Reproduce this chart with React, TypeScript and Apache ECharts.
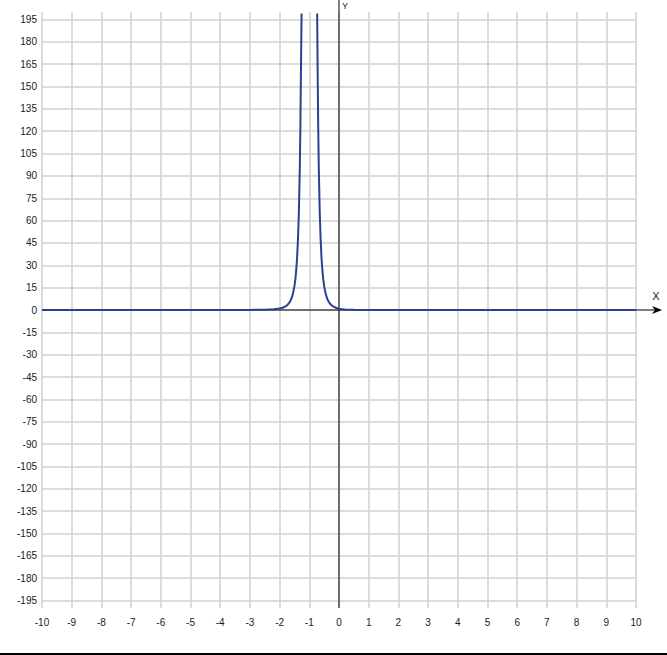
import React, { useEffect, useRef } from "react";
import * as echarts from "echarts";

// Points (x, y); "-" marks the break above the chart top
const curveX: number[] = [
  -10, -6, -4, -3, -2.5, -2.2, -2, -1.9, -1.8, -1.75, -1.7, -1.65, -1.6, -1.55, -1.5,
  -1.47, -1.44, -1.41, -1.38, -1.35, -1.32, -1.3, -1.28, -1.26,
  -1,
  -0.735, -0.72, -0.7, -0.68, -0.65, -0.62, -0.59, -0.56, -0.53, -0.5, -0.45, -0.4,
  -0.35, -0.3, -0.25, -0.2, -0.1, 0, 0.2, 0.5, 1, 2, 4, 10,
];
const curveY: (number | string)[] = [
  0, 0, 0.01, 0.06, 0.2, 0.5, 1, 1.5, 2.4, 3.2, 4.2, 5.6, 7.7, 11, 16,
  20.5, 26.7, 35.4, 48, 66.6, 95, 123, 163, 199,
  "-",
  199, 163, 123, 95, 66.6, 48, 35.4, 26.7, 20.5, 16, 11, 7.7,
  5.6, 4.2, 3.2, 2.4, 1.5, 0.6, 0.3, 0.1, 0.04, 0.01, 0, 0,
];

const xMin = -10;
const xMax = 10;
const xStep = 1;
const yTickMin = -195;
const yTickMax = 195;
const yTickStep = 15;
const yMin = -200;
const yMax = 200;

export default function App() {
  const ref = useRef<HTMLDivElement>(null);

  useEffect(() => {
    if (!ref.current) return;
    const chart = echarts.init(ref.current, undefined, { renderer: "svg" });

    const gLeft = 42;
    const gWidth = 594;
    const gTop = 12;
    const gHeight = 596;
    const pxPerUnit = gHeight / (yMax - yMin);
    const aTop = gTop + (yMax - yTickMax) * pxPerUnit;
    const aHeight = (yTickMax - yTickMin) * pxPerUnit;

    const font = "'Liberation Sans', Arial, sans-serif";
    const gridColor = "#d2d2d2";

    const data = curveX.map((x, i) => [x, curveY[i]]);

    chart.setOption({
      animation: false,
      backgroundColor: "#ffffff",
      grid: [
        { left: gLeft, width: gWidth, top: gTop, height: gHeight },
        { left: gLeft, width: gWidth, top: aTop, height: aHeight },
      ],
      xAxis: [
        {
          type: "value",
          gridIndex: 0,
          min: xMin,
          max: xMax,
          interval: xStep,
          position: "bottom",
          axisLine: { show: false, onZero: false },
          axisTick: { show: false },
          axisLabel: { color: "#1a1a1a", fontSize: 10, fontFamily: font, margin: 9 },
          splitLine: { show: true, lineStyle: { color: gridColor, width: 1.6 } },
        },
        {
          type: "value",
          gridIndex: 1,
          min: xMin,
          max: xMax,
          show: false,
          axisLine: { onZero: false },
          splitLine: { show: false },
        },
      ],
      yAxis: [
        {
          type: "value",
          gridIndex: 0,
          min: yMin,
          max: yMax,
          axisLine: { show: false, onZero: false },
          axisTick: { show: false },
          axisLabel: { show: false },
          splitLine: { show: false },
        },
        {
          type: "value",
          gridIndex: 1,
          min: yTickMin,
          max: yTickMax,
          interval: yTickStep,
          axisLine: { show: false, onZero: false },
          axisTick: { show: false },
          axisLabel: { color: "#1a1a1a", fontSize: 10, fontFamily: font, margin: 5 },
          splitLine: { show: true, lineStyle: { color: gridColor, width: 1.6 } },
        },
      ],
      series: [
        {
          type: "line",
          xAxisIndex: 0,
          yAxisIndex: 0,
          data,
          showSymbol: false,
          symbol: "none",
          clip: false,
          connectNulls: false,
          z: 5,
          lineStyle: { color: "#2a4092", width: 2 },
        },
      ],
    });

    const o = chart.convertToPixel({ gridIndex: 0 }, [0, 0]) as number[];
    const right = chart.convertToPixel({ gridIndex: 0 }, [xMax, 0]) as number[];
    const left = chart.convertToPixel({ gridIndex: 0 }, [xMin, 0]) as number[];
    const bottom = chart.convertToPixel({ gridIndex: 0 }, [0, yMin]) as number[];
    const tipX = right[0] + 26;

    chart.setOption({
      graphic: [
        {
          type: "line",
          z: 2,
          shape: { x1: left[0], y1: o[1], x2: tipX - 4, y2: o[1] },
          style: { stroke: "#000", lineWidth: 1 },
        },
        {
          type: "polygon",
          z: 2,
          shape: {
            points: [
              [tipX, o[1]],
              [tipX - 10, o[1] - 4],
              [tipX - 7, o[1]],
              [tipX - 10, o[1] + 4],
            ],
          },
          style: { fill: "#000" },
        },
        {
          type: "text",
          z: 2,
          x: tipX - 6,
          y: o[1] - 20,
          style: { text: "X", fill: "#222", fontSize: 11, fontFamily: font, align: "center" },
        },
        {
          type: "line",
          z: 2,
          shape: { x1: o[0], y1: 0, x2: o[0], y2: bottom[1] },
          style: { stroke: "#000", lineWidth: 1 },
        },
        {
          type: "text",
          z: 2,
          x: o[0] + 6,
          y: 1,
          style: {
            text: "Y",
            fill: "#222",
            fontSize: 9,
            fontFamily: font,
            align: "center",
            verticalAlign: "top",
          },
        },
        {
          type: "rect",
          z: 2,
          shape: { x: 0, y: 653, width: 667, height: 2 },
          style: { fill: "#000" },
        },
      ],
    });

    return () => chart.dispose();
  }, []);

  return (
    <div
      ref={ref}
      style={{ position: "fixed", left: 0, top: 0, width: 667, height: 655, background: "#fff" }}
    />
  );
}
